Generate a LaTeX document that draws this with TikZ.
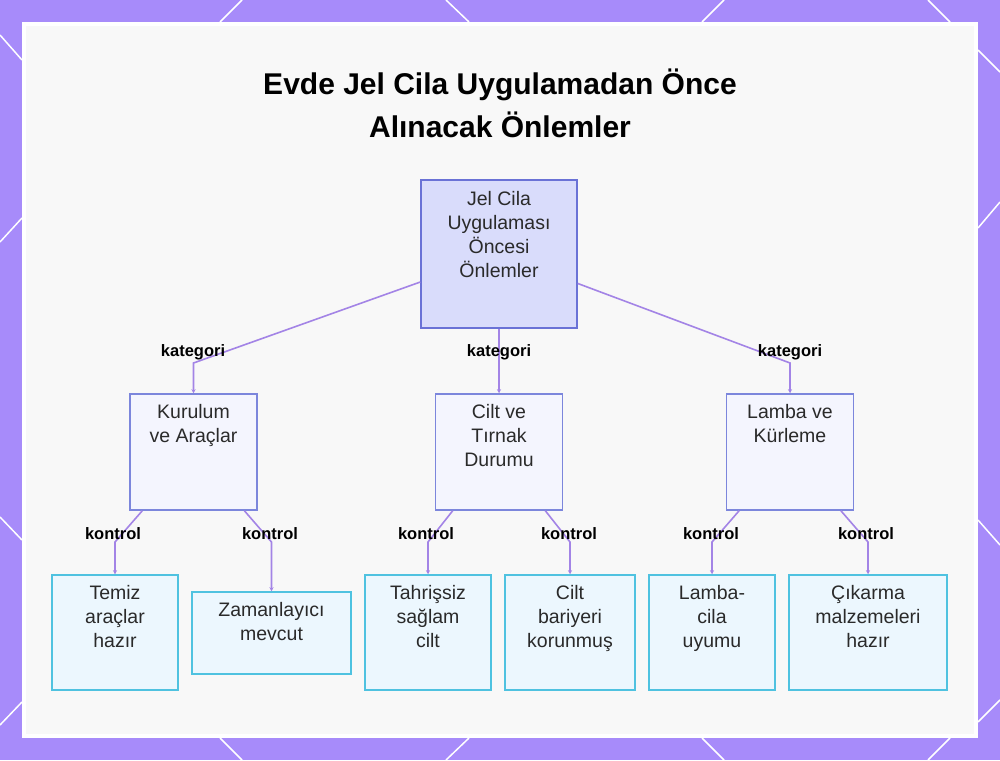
\documentclass[tikz,border=0pt]{standalone}
\usepackage{fontspec}
\setmainfont{Liberation Sans}
\usetikzlibrary{positioning,arrows.meta}
\definecolor{mor}{HTML}{A78BFA}
\definecolor{cizgi}{HTML}{A384E6}
\definecolor{zemin}{HTML}{F8F8F8}
\definecolor{kokdolgu}{HTML}{D9DCFB}
\definecolor{kokcerceve}{HTML}{6A72D6}
\definecolor{aradolgu}{HTML}{F4F5FE}
\definecolor{aracerceve}{HTML}{7C86DC}
\definecolor{yaprakdolgu}{HTML}{ECF7FE}
\definecolor{yaprakcerceve}{HTML}{4FC2E0}
\definecolor{metin}{HTML}{2A2A2A}
\begin{document}
\begin{tikzpicture}[
  x=1pt, y=-1pt,
  kutu/.style={draw, line width=1.5pt, inner sep=0pt},
  kok/.style={kutu, draw=kokcerceve, fill=kokdolgu, minimum width=156pt, minimum height=148pt},
  ara/.style={kutu, draw=aracerceve, fill=aradolgu, minimum width=127pt, minimum height=116pt},
  yaprak/.style={kutu, draw=yaprakcerceve, fill=yaprakdolgu, minimum width=126pt, minimum height=115pt},
  yazi/.style={inner sep=0pt, align=center, text=metin, font=\fontsize{19.5}{24}\selectfont},
  etiket/.style={inner sep=0pt, text=black, font=\fontsize{16.5}{18}\selectfont\bfseries},
  ok/.style={cizgi, line width=1.6pt, -{Stealth[length=4pt,width=4pt]}},
  desen/.style={white, line width=1.5pt}
]
  \useasboundingbox (0,0) rectangle (1000,760);
  \fill[mor] (0,0) rectangle (1000,760);
  \foreach \xa/\ya/\xb/\yb in {242/0/220/22, 446/0/469/22, 724/0/702/22, 928/0/950/22,
    220/738/242/760, 469/738/446/760, 702/738/724/760, 950/738/928/760,
    0/35/22/60, 22/218/0/242, 0/517/22/540, 22/702/0/725,
    978/50/1000/72, 1000/202/978/228, 978/520/1000/545, 1000/700/978/722}
    \draw[desen] (\xa,\ya) -- (\xb,\yb);
  \fill[white] (22,22) rectangle (978,738);
  \fill[zemin] (26,26) rectangle (974,734);

  \node[align=center, text=black, font=\fontsize{30}{43}\selectfont\bfseries] (baslik) at (500,103) {Evde Jel Cila Uygulamadan Önce\\Alınacak Önlemler};

  \node[kok] (kok) at (499,254) {};
  \node[yazi, below=12pt of kok.north] (kokyazi) {Jel Cila\\Uygulaması\\Öncesi\\Önlemler};

  \node[ara] (kurulum) at (193.5,452) {};
  \node[yazi, below=11pt of kurulum.north] (kurulumyazi) {Kurulum\\ve Araçlar};
  \node[ara] (cilt) at (499,452) {};
  \node[yazi, below=11pt of cilt.north] (ciltyazi) {Cilt ve\\Tırnak\\Durumu};
  \node[ara] (lamba) at (790,452) {};
  \node[yazi, below=11pt of lamba.north] (lambayazi) {Lamba ve\\Kürleme};

  \node[yaprak] (temiz) at (115,632.5) {};
  \node[yazi, below=11pt of temiz.north] (temizyazi) {Temiz\\araçlar\\hazır};
  \node[yaprak, minimum width=159pt, minimum height=82pt] (zaman) at (271.5,633) {};
  \node[yazi, below=11pt of zaman.north] (zamanyazi) {Zamanlayıcı\\mevcut};
  \node[yaprak] (tahris) at (428,632.5) {};
  \node[yazi, below=11pt of tahris.north] (tahrisyazi) {Tahrişsiz\\sağlam\\cilt};
  \node[yaprak, minimum width=130pt] (bariyer) at (570,632.5) {};
  \node[yazi, below=11pt of bariyer.north] (bariyeryazi) {Cilt\\bariyeri\\korunmuş};
  \node[yaprak] (uyum) at (712,632.5) {};
  \node[yazi, below=11pt of uyum.north] (uyumyazi) {Lamba-\\cila\\uyumu};
  \node[yaprak, minimum width=158pt] (cikarma) at (868,632.5) {};
  \node[yazi, below=11pt of cikarma.north] (cikarmayazi) {Çıkarma\\malzemeleri\\hazır};

  \coordinate (k1) at (193.5,363);
  \coordinate (k3) at (790,363);
  \coordinate (t1) at (115,542);
  \coordinate (t2) at (271.5,542);
  \coordinate (t3) at (428,542);
  \coordinate (t4) at (570,542);
  \coordinate (t5) at (712,542);
  \coordinate (t6) at (868,542);

  \draw[ok] (kok) -- (k1) -- (kurulum);
  \draw[ok] (kok) -- (cilt);
  \draw[ok] (kok) -- (k3) -- (lamba);
  \draw[ok] (kurulum) -- (t1) -- (temiz);
  \draw[ok] (kurulum) -- (t2) -- (zaman);
  \draw[ok] (cilt) -- (t3) -- (tahris);
  \draw[ok] (cilt) -- (t4) -- (bariyer);
  \draw[ok] (lamba) -- (t5) -- (uyum);
  \draw[ok] (lamba) -- (t6) -- (cikarma);

  \node[etiket] (e1) at (193,352) {kategori};
  \node[etiket] (e2) at (499,352) {kategori};
  \node[etiket] (e3) at (790,352) {kategori};
  \node[etiket] (e4) at (113,534) {kontrol};
  \node[etiket] (e5) at (270,534) {kontrol};
  \node[etiket] (e6) at (426,534) {kontrol};
  \node[etiket] (e7) at (569,534) {kontrol};
  \node[etiket] (e8) at (711,534) {kontrol};
  \node[etiket] (e9) at (866,534) {kontrol};
\end{tikzpicture}
\end{document}
